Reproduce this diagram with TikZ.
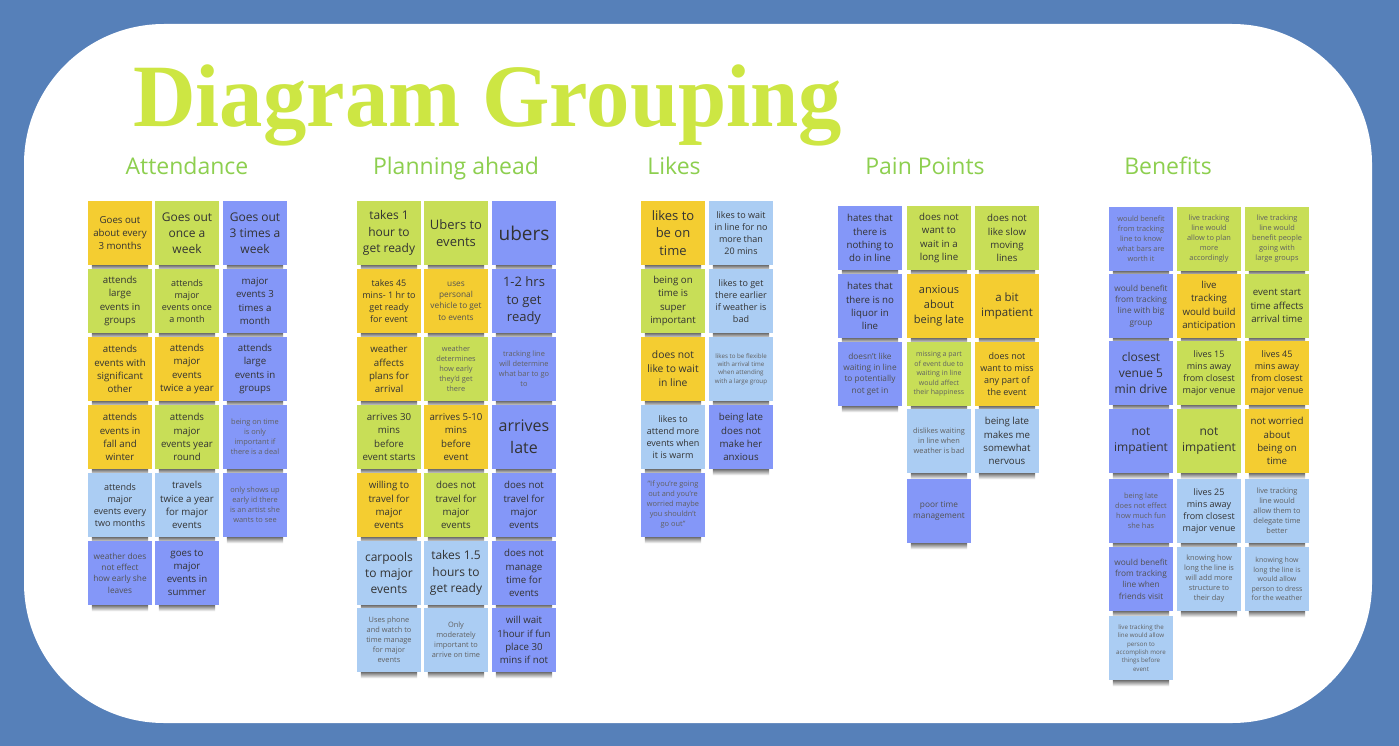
\documentclass[tikz,border=0pt]{standalone}
\usepackage{fontspec}
\setmainfont{Open Sans}
\newfontfamily\titlefont{Liberation Serif}
\definecolor{bgblue}{HTML}{5680B9}
\definecolor{titlegreen}{HTML}{CDE643}
\definecolor{headgreen}{HTML}{8DCF4F}
\definecolor{Y}{HTML}{F4CD31}
\definecolor{G}{HTML}{C8DE57}
\definecolor{B}{HTML}{8497F8}
\definecolor{L}{HTML}{ABCDF3}
\tikzset{
  note/.style={rectangle, minimum width=64pt, minimum height=64pt, inner sep=0pt, align=center,
    text=black!80},
  shadowstrip/.style={top color=black!55, bottom color=white},
  sA/.style={font=\fontsize{6.2}{8.4}\selectfont, text=black!62},
  sA7/.style={font=\fontsize{7}{9.4}\selectfont, text=black!62},
  sB/.style={font=\fontsize{7.4}{10}\selectfont, text=black!62},
  sC/.style={font=\fontsize{8.3}{11.3}\selectfont, text=black!68},
  sD/.style={font=\fontsize{9}{12.2}\selectfont},
  sE/.style={font=\fontsize{9.7}{13.2}\selectfont},
  sF/.style={font=\fontsize{11}{15}\selectfont},
  sG/.style={font=\fontsize{12}{16.2}\selectfont},
  sH/.style={font=\fontsize{13}{17.6}\selectfont},
  heading/.style={anchor=base, text=headgreen, font=\fontsize{23}{28}\selectfont, inner sep=0pt}
}
\newcommand\stk[5]{%
  \node[note,fill=#4,#3] (#1) at (#2) {#5};
  \shade[shadowstrip] ([xshift=4pt]#1.south west) rectangle ([xshift=-4pt,yshift=-6pt]#1.south east);}
\begin{document}
\begin{tikzpicture}[x=1pt,y=-1pt]
\useasboundingbox (0,0) rectangle (1399,746);
\fill[bgblue] (0,0) rectangle (1399,746);
\fill[white, rounded corners=140pt] (24,24) rectangle (1372,723);
\node[anchor=base west, inner sep=0pt, text=titlegreen, font=\titlefont\bfseries\fontsize{89}{100}\selectfont] (title) at (133,127) {\scalebox{0.974}[1]{Diagram Grouping}};
\node[heading] (hatt) at (187,175) {Attendance};
\node[heading] (hplan) at (456,175) {Planning ahead};
\node[heading] (hlikes) at (674,175) {Likes};
\node[heading] (hpain) at (925,175) {Pain Points};
\node[heading] (hben) at (1168,175) {Benefits};
% Attendance
\stk{a11}{120,233}{sE}{Y}{Goes out\\about every\\3 months}
\stk{a12}{187,233}{sG}{G}{Goes out\\once a\\week}
\stk{a13}{255,233}{sG}{B}{Goes out\\3 times a\\week}
\stk{a21}{120,301}{sE}{G}{attends\\large\\events in\\groups}
\stk{a22}{187,301}{sD}{G}{attends\\major\\events once\\a month}
\stk{a23}{255,301}{sE}{B}{major\\events 3\\times a\\month}
\stk{a31}{120,369}{sE}{Y}{attends\\events with\\significant\\other}
\stk{a32}{187,369}{sE}{Y}{attends\\major\\events\\twice a year}
\stk{a33}{255,369}{sE}{B}{attends\\large\\events in\\groups}
\stk{a41}{120,437}{sE}{Y}{attends\\events in\\fall and\\winter}
\stk{a42}{187,437}{sE}{G}{attends\\major\\events year\\round}
\stk{a43}{255,437}{sB}{B}{being on time\\is only\\important if\\there is a deal}
\stk{a51}{120,505}{sD}{L}{attends\\major\\events every\\two months}
\stk{a52}{187,505}{sE}{L}{travels\\twice a year\\for major\\events}
\stk{a53}{255,505}{sB}{B}{only shows up\\early id there\\is an artist she\\wants to see}
\stk{a61}{120,573}{sC}{B}{weather does\\not effect\\how early she\\leaves}
\stk{a62}{187,573}{sE}{B}{goes to\\major\\events in\\summer}
% Planning ahead
\stk{p11}{389,233}{sG}{G}{takes 1\\hour to\\get ready}
\stk{p12}{456,233}{sH}{G}{Ubers to\\events}
\stk{p13}{524,233}{font=\fontsize{19}{24}\selectfont}{B}{ubers}
\stk{p21}{389,301}{sD}{Y}{takes 45\\mins- 1 hr to\\get ready\\for event}
\stk{p22}{456,301}{sC}{Y}{uses\\personal\\vehicle to get\\to events}
\stk{p23}{524,301}{sH}{B}{1-2 hrs\\to get\\ready}
\stk{p31}{389,369}{sE}{Y}{weather\\affects\\plans for\\arrival}
\stk{p32}{456,369}{sB}{G}{weather\\determines\\how early\\they'd get\\there}
\stk{p33}{524,369}{sB}{B}{tracking line\\will determine\\what bar to go\\to}
\stk{p41}{389,437}{sE}{G}{arrives 30\\mins\\before\\event starts}
\stk{p42}{456,437}{sE}{Y}{arrives 5-10\\mins\\before\\event}
\stk{p43}{524,437}{font=\fontsize{16}{22}\selectfont}{B}{arrives\\late}
\stk{p51}{389,505}{sE}{Y}{willing to\\travel for\\major\\events}
\stk{p52}{456,505}{sE}{G}{does not\\travel for\\major\\events}
\stk{p53}{524,505}{sE}{B}{does not\\travel for\\major\\events}
\stk{p61}{389,573}{sG}{L}{carpools\\to major\\events}
\stk{p62}{456,573}{sG}{L}{takes 1.5\\hours to\\get ready}
\stk{p63}{524,573}{sE}{B}{does not\\manage\\time for\\events}
\stk{p71}{389,640}{sB}{L}{Uses phone\\and watch to\\time manage\\for major\\events}
\stk{p72}{456,640}{sB}{L}{Only\\moderately\\important to\\arrive on time}
\stk{p73}{524,640}{sE}{B}{will wait\\1hour if fun\\place 30\\mins if not}
% Likes
\stk{l11}{673,233}{sH}{Y}{likes to\\be on\\time}
\stk{l12}{741,233}{sD}{L}{likes to wait\\in line for no\\more than\\20 mins}
\stk{l21}{673,301}{sE}{G}{being on\\time is\\super\\important}
\stk{l22}{741,301}{sD}{L}{likes to get\\there earlier\\if weather is\\bad}
\stk{l31}{673,369}{font=\fontsize{10.3}{14}\selectfont}{Y}{does not\\like to wait\\in line}
\stk{l32}{741,369}{sA}{L}{likes to be flexible\\with arrival time\\when attending\\with a large group}
\stk{l41}{673,437}{sD}{L}{likes to\\attend more\\events when\\it is warm}
\stk{l42}{741,437}{sE}{B}{being late\\does not\\make her\\anxious}
\stk{l51}{673,505}{sB}{B}{"If you're going\\out and you're\\worried maybe\\you shouldn't\\go out"}
% Pain Points
\stk{q11}{870,238}{sE}{B}{hates that\\there is\\nothing to\\do in line}
\stk{q12}{939,238}{sE}{G}{does not\\want to\\wait in a\\long line}
\stk{q13}{1007,238}{sE}{G}{does not\\like slow\\moving\\lines}
\stk{q21}{870,306}{sE}{B}{hates that\\there is no\\liquor in\\line}
\stk{q22}{939,306}{sF}{Y}{anxious\\about\\being late}
\stk{q23}{1007,306}{font=\fontsize{11.5}{15.6}\selectfont}{Y}{a bit\\impatient}
\stk{q31}{870,374}{sC}{B}{doesn't like\\waiting in line\\to potentially\\not get in}
\stk{q32}{939,374}{sA7}{G}{missing a part\\of event due to\\waiting in line\\would affect\\their happiness}
\stk{q33}{1007,374}{sD}{Y}{does not\\want to miss\\any part of\\the event}
\stk{q42}{939,441}{sB}{L}{dislikes waiting\\in line when\\weather is bad}
\stk{q43}{1007,441}{sE}{L}{being late\\makes me\\somewhat\\nervous}
\stk{q52}{939,511}{sC}{B}{poor time\\management}
% Benefits
\stk{b11}{1141,239}{sB}{B}{would benefit\\from tracking\\line to know\\what bars are\\worth it}
\stk{b12}{1209,239}{sB}{G}{live tracking\\line would\\allow to plan\\more\\accordingly}
\stk{b13}{1277,239}{sB}{G}{live tracking\\line would\\benefit people\\going with\\large groups}
\stk{b21}{1141,306}{sC}{B}{would benefit\\from tracking\\line with big\\group}
\stk{b22}{1209,306}{sE}{Y}{live\\tracking\\would build\\anticipation}
\stk{b23}{1277,306}{sE}{G}{event start\\time affects\\arrival time}
\stk{b31}{1141,373}{sG}{B}{closest\\venue 5\\min drive}
\stk{b32}{1209,373}{sD}{G}{lives 15\\mins away\\from closest\\major venue}
\stk{b33}{1277,373}{sD}{Y}{lives 45\\mins away\\from closest\\major venue}
\stk{b41}{1141,441}{sG}{B}{not\\impatient}
\stk{b42}{1209,441}{sG}{G}{not\\impatient}
\stk{b43}{1277,441}{sE}{Y}{not worried\\about\\being on\\time}
\stk{b51}{1141,511}{sB}{B}{being late\\does not effect\\how much fun\\she has}
\stk{b52}{1209,511}{sD}{L}{lives 25\\mins away\\from closest\\major venue}
\stk{b53}{1277,511}{sB}{L}{live tracking\\line would\\allow them to\\delegate time\\better}
\stk{b61}{1141,579}{sC}{B}{would benefit\\from tracking\\line when\\friends visit}
\stk{b62}{1209,579}{sB}{L}{knowing how\\long the line is\\will add more\\structure to\\their day}
\stk{b63}{1277,579}{sA7}{L}{knowing how\\long the line is\\would allow\\person to dress\\for the weather}
\stk{b71}{1141,648}{sA}{L}{live tracking the\\line would allow\\person to\\accomplish more\\things before\\event}
\end{tikzpicture}
\end{document}
